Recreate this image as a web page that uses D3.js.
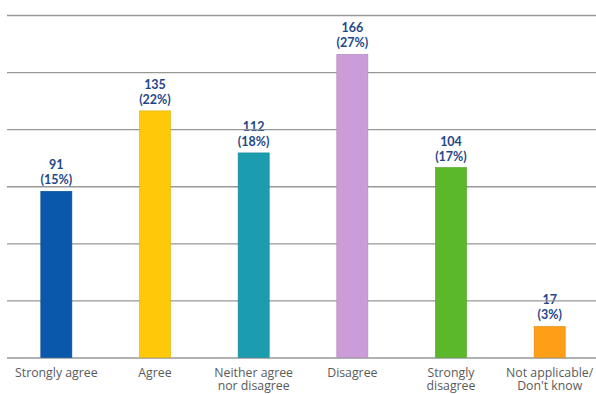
<!DOCTYPE html>
<html>
<head>
<meta charset="utf-8">
<script src="https://cdn.jsdelivr.net/npm/d3@7/dist/d3.min.js"></script>
<style>
  html, body { margin: 0; padding: 0; background: #ffffff; }
  svg { display: block; }
</style>
</head>
<body>
<svg id="chart" width="596" height="394"></svg>
<script>
// Survey responses: counts per answer
const categories = [
  ["Strongly agree"],
  ["Agree"],
  ["Neither agree", "nor disagree"],
  ["Disagree"],
  ["Strongly", "disagree"],
  ["Not applicable/", "Don't know"]
];
const counts = [91, 135, 112, 166, 104, 17];
const percentLabels = ["15%", "22%", "18%", "27%", "17%", "3%"];
const barColors = ["#0A58AC", "#FFC909", "#1B9DAF", "#CC9CD8", "#5CB82B", "#FF9F17"];
const yTicks = [0, 5, 10, 15, 20, 25, 30];

const total = d3.sum(counts);
const svg = d3.select("#chart");

const x = d3.scaleBand()
  .domain(d3.range(counts.length))
  .range([7, 599])
  .paddingInner(0.685)
  .paddingOuter(0.3425);

const y = d3.scaleLinear()
  .domain([0, 30])
  .range([357.5, 15]);

const share = c => c / total * 100;

// Value labels (sit beneath the gridlines)
const labels = svg.append("g")
  .attr("font-family", "Lato, 'Open Sans', sans-serif")
  .attr("font-weight", "bold")
  .attr("font-size", 12.5)
  .attr("fill", "#1F4788")
  .attr("text-anchor", "middle");

counts.forEach((c, i) => {
  const cx = x(i) + x.bandwidth() / 2;
  const top = y(share(c));
  labels.append("text").attr("x", cx).attr("y", top - 22).text(c);
  labels.append("text").attr("x", cx).attr("y", top - 7).text("(" + percentLabels[i] + ")");
});

// Horizontal gridlines
svg.append("g")
  .attr("transform", "translate(7,0)")
  .call(d3.axisLeft(y).tickValues(yTicks).tickSize(-(596 - 7)).tickFormat(""))
  .call(g => g.select(".domain").remove())
  .call(g => g.selectAll(".tick line").attr("stroke", "#979797").attr("stroke-width", 1.3));

// Bars
svg.append("g")
  .selectAll("rect")
  .data(counts)
  .join("rect")
  .attr("x", (d, i) => x(i))
  .attr("y", d => y(share(d)))
  .attr("width", x.bandwidth())
  .attr("height", d => y(0) - y(share(d)))
  .attr("fill", (d, i) => barColors[i])
  .attr("stroke", (d, i) => d3.color(barColors[i]).darker(0.4))
  .attr("stroke-width", 0.6);

// Category labels
const cat = svg.append("g")
  .attr("font-family", "'Open Sans', Lato, sans-serif")
  .attr("font-size", 12.3)
  .attr("fill", "#5a5a5a")
  .attr("text-anchor", "middle");

categories.forEach((lines, i) => {
  const t = cat.append("text")
    .attr("x", x(i) + x.bandwidth() / 2)
    .attr("y", 376.5);
  lines.forEach((ln, k) => {
    t.append("tspan")
      .attr("x", x(i) + x.bandwidth() / 2)
      .attr("dy", k === 0 ? 0 : 13.5)
      .text(ln);
  });
});
</script>
</body>
</html>
